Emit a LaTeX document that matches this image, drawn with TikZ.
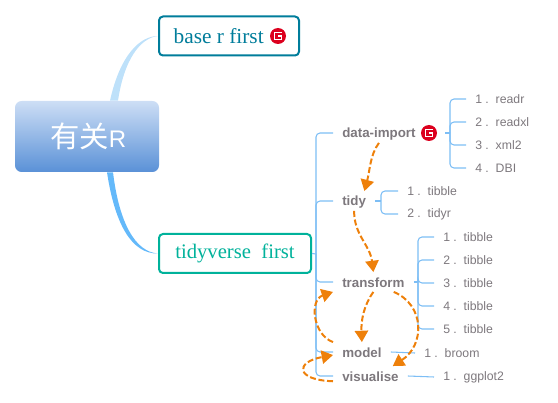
\documentclass[tikz,border=0pt]{standalone}
\usepackage{fontspec}
\setmainfont{Liberation Sans}
\newfontfamily\serifface{Liberation Serif}
\newfontfamily\cjkface{Noto Sans CJK SC}
\usetikzlibrary{arrows.meta,calc}
\definecolor{basecol}{RGB}{0,125,155}
\definecolor{tidycol}{RGB}{0,178,155}
\definecolor{leafcol}{RGB}{125,190,245}
\definecolor{labelcol}{RGB}{125,120,125}
\definecolor{flowcol}{RGB}{238,128,10}
\definecolor{iconcol}{RGB}{220,0,30}
\definecolor{roottop}{RGB}{205,222,245}
\definecolor{rootbottom}{RGB}{90,145,215}
\definecolor{branchup}{RGB}{190,225,250}
\definecolor{branchdown}{RGB}{100,185,250}
\tikzset{
  rootbox/.style = {
    rounded corners=5pt, top color=roottop, bottom color=rootbottom, text=white,
    minimum width=108pt, minimum height=53.25pt, inner sep=0pt
  },
  mainbox/.style = {
    draw, line width=1.5pt, rounded corners=3pt, fill=white,
    minimum height=29.25pt, inner sep=0pt,
    font=\serifface\fontsize{15.5}{18}\selectfont
  },
  topic/.style = {
    anchor=west, inner xsep=6.75pt, inner ysep=2pt,
    text height=9pt, text depth=1.5pt, text=labelcol,
    font=\bfseries\fontsize{10}{12}\selectfont
  },
  leaf/.style = {
    anchor=west, inner xsep=6.75pt, inner ysep=1pt, text=labelcol,
    font=\fontsize{9.2}{11}\selectfont
  },
  twig/.style = {draw=leafcol, line width=0.8pt, rounded corners=3pt},
  flow/.style = {
    draw=flowcol, line width=1.5pt, dash pattern=on 4.5pt off 2pt,
    -{Triangle[length=8.5pt,width=10pt,fill=flowcol]}
  },
  gicon/.pic = {
    \fill[iconcol] (0,0) circle (8);
    \draw[white, line width=1.3pt] (4,-3.6)--(-3.6,-3.6)--(-3.6,3.6)--(3.6,3.6)--(3.6,0)--(-0.5,0);
  }
}

\begin{document}
\begin{tikzpicture}[x=0.75pt,y=-0.75pt]
\useasboundingbox (0,0) rectangle (558,403);

% main boxes
\node[rootbox, font=\fontsize{18}{24}\selectfont] (root) at (87,136.5) {\hspace*{2pt}{\cjkface\fontsize{22}{24}\selectfont 有关}R};
\node[mainbox, draw=basecol, text=basecol, minimum width=105pt, font=\serifface\fontsize{16}{18}\selectfont] (basefirst) at (229,36) {base r first\rule{15.5pt}{0pt}};
\node[mainbox, draw=tidycol, text=tidycol, minimum width=114pt] (tidyfirst) at (235,253.5) {tidyverse\ \ first};
\pic at (278,36) {gicon};

% tapered branches out of the root
\fill[branchup] ($(root.north)+(23,0)$) .. controls (120,55) and (140,36) .. (basefirst.west)
  .. controls (140,38) and (124,60) .. ($(root.north)+(31,0)$) -- cycle;
\fill[branchdown] ($(root.south)+(20,0)$) .. controls (115,225) and (132,254) .. (tidyfirst.west)
  .. controls (135,252) and (119,222) .. ($(root.south)+(26,0)$) -- cycle;

% second level
\node[topic] (dataimport) at (333,133) {data-import};
\node[topic] (tidy) at (333,201) {tidy};
\node[topic] (transform) at (333,282) {transform};
\node[topic] (model) at (333,352) {model};
\node[topic] (visualise) at (333,376) {visualise};
\pic at (429,133) {gicon};

\coordinate (trunk) at (316,254);
\draw[twig] (tidyfirst.east) -- (trunk);
\draw[twig] (trunk) |- (dataimport.west);
\draw[twig] (trunk) |- (tidy.west);
\draw[twig] (trunk) |- (transform.west);
\draw[twig] (trunk) |- (model.west);
\draw[twig] (trunk) |- (visualise.west);

% leaves of data-import
\node[leaf] (readr) at (466,99) {1 .\ \ readr};
\node[leaf] (readxl) at (466,122) {2 .\ \ readxl};
\node[leaf] (xmltwo) at (466,145) {3 .\ \ xml2};
\node[leaf] (dbi) at (466,168) {4 .\ \ DBI};
\coordinate (importstem) at (445,133);
\coordinate (importjoint) at (450,133);
\draw[twig] (importstem) -- (importjoint);
\draw[twig] (importjoint) |- (readr.west);
\draw[twig] (importjoint) |- (readxl.west);
\draw[twig] (importjoint) |- (xmltwo.west);
\draw[twig] (importjoint) |- (dbi.west);

% leaves of tidy
\node[leaf] (tibbleone) at (398,191) {1 .\ \ tibble};
\node[leaf] (tidyr) at (398,214) {2 .\ \ tidyr};
\coordinate (tidyjoint) at (381,201);
\draw[twig] (tidy.east) -- (tidyjoint);
\draw[twig] (tidyjoint) |- (tibbleone.west);
\draw[twig] (tidyjoint) |- (tidyr.west);

% leaves of transform
\node[leaf] (tibblea) at (434,237) {1 .\ \ tibble};
\node[leaf] (tibbleb) at (434,260) {2 .\ \ tibble};
\node[leaf] (tibblec) at (434,283) {3 .\ \ tibble};
\node[leaf] (tibbled) at (434,306) {4 .\ \ tibble};
\node[leaf] (tibblee) at (434,329) {5 .\ \ tibble};
\coordinate (transformjoint) at (418,282);
\draw[twig] (transform.east) -- (transformjoint);
\draw[twig] (transformjoint) |- (tibblea.west);
\draw[twig] (transformjoint) |- (tibbleb.west);
\draw[twig] (transformjoint) |- (tibblec.west);
\draw[twig] (transformjoint) |- (tibbled.west);
\draw[twig] (transformjoint) |- (tibblee.west);

% single leaves
\node[leaf] (broom) at (415,353) {1 .\ \ broom};
\node[leaf] (ggplot) at (434,377) {1 .\ \ ggplot2};
\draw[twig] (model.east) -- (broom.west);
\draw[twig] (visualise.east) -- (ggplot.west);

% orange flow between the topics
\draw[flow] (dataimport.south) .. controls (370,155) and (370,170) .. (tidy.44);
\draw[flow] (tidy.south) .. controls (354,235) and (370,245) .. (transform.north);
\draw[flow] (transform.south) .. controls (364,305) and (361,320) .. (model.north);
\draw[flow] (transform.-26) .. controls (425,305) and (425,345) .. (visualise.24); % round the right side
\draw[flow] (model.north west) .. controls (313,335) and (309,300) .. (transform.south west);
\draw[flow] (visualise.188) .. controls (295,380) and (295,362) .. (model.186);
\end{tikzpicture}
\end{document}
